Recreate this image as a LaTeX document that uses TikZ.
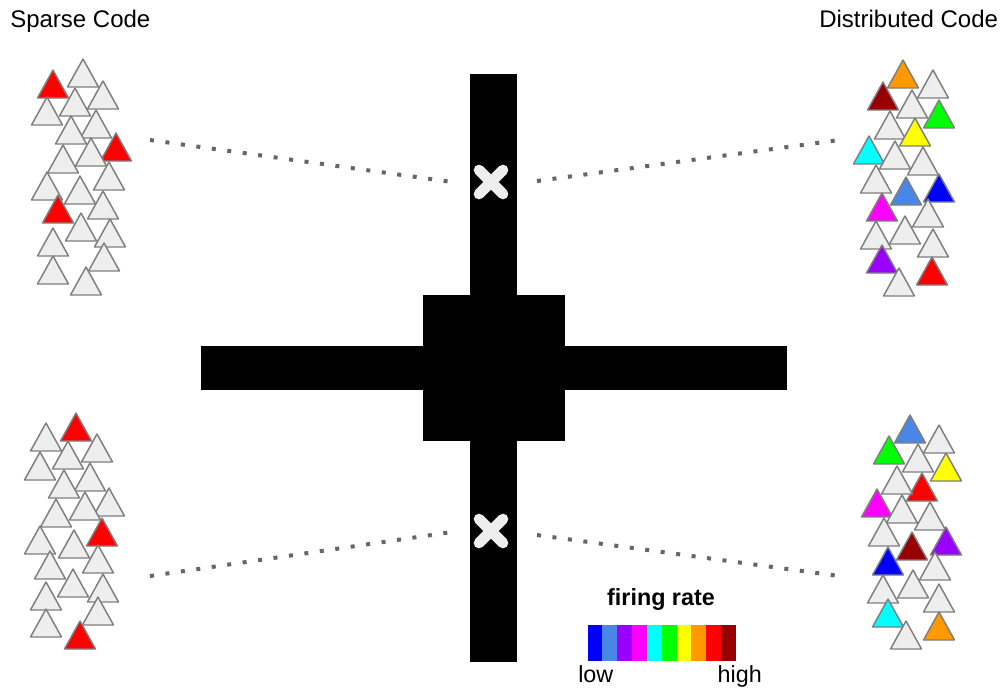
\documentclass[tikz,border=0pt]{standalone}
\usepackage{fontspec}
\setmainfont{Liberation Sans}
\definecolor{tgray}{HTML}{EEEEEE}
\definecolor{tline}{HTML}{7F7F7F}
\definecolor{cred}{HTML}{FF0000}
\definecolor{cdred}{HTML}{980000}
\definecolor{corange}{HTML}{FF9900}
\definecolor{cgreen}{HTML}{00FF00}
\definecolor{cyellow}{HTML}{FFFF00}
\definecolor{ccyan}{HTML}{00FFFF}
\definecolor{ccorn}{HTML}{4A86E8}
\definecolor{cblue}{HTML}{0000FF}
\definecolor{cmag}{HTML}{FF00FF}
\definecolor{cpurp}{HTML}{9900FF}
\definecolor{dotgray}{HTML}{666666}
\begin{document}
\begin{tikzpicture}[x=0.75pt,y=-0.75pt,
  tri/.pic={\draw[draw=tline,line width=1.1pt,line join=round,fill=#1] (-15.5,14) -- (15.5,14) -- (0,-14) -- cycle;},
  dots/.style={draw=dotgray,line width=3pt,line cap=butt,dash pattern=on 3pt off 8.7pt},
  xmark/.style={draw=tgray,line width=8pt,line cap=round},
  lbl/.style={font=\fontsize{18}{21}\selectfont,inner sep=0pt},
  barpart/.style={minimum width=11.13pt,minimum height=27pt,inner sep=0pt,draw=none}]
\useasboundingbox (0,0) rectangle (1003,690);
\fill[white] (0,0) rectangle (1003,690);
% titles
\node[lbl,anchor=base west] (tsparse) at (10,27) {Sparse Code};
\node[lbl,anchor=base west] (tdist) at (819,27) {Distributed Code};
% cross
\fill[black] (470,74) rectangle (517,662);
\fill[black] (201,346) rectangle (787,390);
\fill[black] (423,295) rectangle (565,441);
% X marks
\coordinate (xt) at (491,182);
\coordinate (xb) at (491,531);
\draw[xmark] ([shift={(-12,-12)}]xt) -- ([shift={(12,12)}]xt);
\draw[xmark] ([shift={(-12,12)}]xt) -- ([shift={(12,-12)}]xt);
\draw[xmark] ([shift={(-12,-12)}]xb) -- ([shift={(12,12)}]xb);
\draw[xmark] ([shift={(-12,12)}]xb) -- ([shift={(12,-12)}]xb);
% dotted connectors
\coordinate (tl1) at (150,140); \coordinate (tl2) at (452,182);
\coordinate (tr1) at (537,181); \coordinate (tr2) at (839,140);
\coordinate (bl1) at (150,576); \coordinate (bl2) at (452,532);
\coordinate (br1) at (537,535); \coordinate (br2) at (839,576);
\draw[dots] (tl1) -- (tl2);
\draw[dots] (tr1) -- (tr2);
\draw[dots] (bl1) -- (bl2);
\draw[dots] (br1) -- (br2);
% top-left cluster (sparse)
\foreach \x/\y/\c in {83/73/tgray,53/84/cred,103/95/tgray,75/102/tgray,47/111/tgray,96/124/tgray,71/130/tgray,116/147/cred,91/152/tgray,63/159/tgray,109/176/tgray,47/186/tgray,80/190/tgray,103/205/tgray,58/209/cred,81/227/tgray,110/233/tgray,53/242/tgray,104/257/tgray,53/270/tgray,86/281/tgray}
  \pic at (\x,\y) {tri=\c};
% top-right cluster (distributed)
\foreach \x/\y/\c in {903/74/corange,933/84/tgray,883/96/cdred,912/104/tgray,939/114/cgreen,890/125/tgray,915/132/cyellow,869/150/ccyan,895/155/tgray,923/161/tgray,876/179/tgray,939/188/cblue,906/191/ccorn,882/207/cmag,928/213/tgray,905/230/tgray,876/235/tgray,933/243/tgray,882/259/cpurp,932/271/cred,899/282/tgray}
  \pic at (\x,\y) {tri=\c};
% bottom-left cluster (sparse)
\foreach \x/\y/\c in {76/427/cred,46/437/tgray,97/448/tgray,68/455/tgray,40/466/tgray,90/477/tgray,64/484/tgray,109/502/tgray,85/506/tgray,56/513/tgray,102/532/cred,40/540/tgray,74/544/tgray,98/559/tgray,50/565/tgray,73/583/tgray,103/588/tgray,46/596/tgray,98/611/tgray,46/623/tgray,80/635/cred}
  \pic at (\x,\y) {tri=\c};
% bottom-right cluster (distributed)
\foreach \x/\y/\c in {910/429/ccorn,939/439/tgray,889/450/cgreen,918/458/tgray,946/467/cyellow,922/487/cred,897/480/tgray,877/503/cmag,902/509/tgray,930/516/tgray,884/532/tgray,946/541/cpurp,912/546/cdred,888/561/cblue,935/566/tgray,913/584/tgray,883/589/tgray,939/598/tgray,888/613/ccyan,939/626/corange,906/635/tgray}
  \pic at (\x,\y) {tri=\c};
% legend
\node[lbl,font=\fontsize{17.5}{20}\selectfont\bfseries,anchor=base] (tfire) at (661,605) {firing rate};
\foreach \c [count=\i from 0] in {cblue,ccorn,cpurp,cmag,ccyan,cgreen,cyellow,corange,cred,cdred}
  \node[barpart,fill=\c,anchor=north west] (bar\i) at ({587.3+14.84*\i},625) {};
\node[lbl,font=\fontsize{17.5}{20}\selectfont,anchor=base west] (tlow) at (578,682) {low};
\node[lbl,font=\fontsize{17.5}{20}\selectfont,anchor=base east] (thigh) at (762,682) {high};
\end{tikzpicture}
\end{document}
